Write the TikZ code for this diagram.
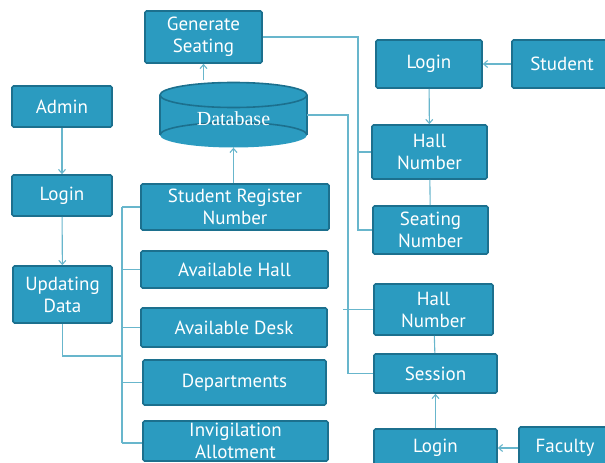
\documentclass[tikz,border=0pt]{standalone}
\usepackage{fontspec}
\setmainfont{PT Sans}
\newfontfamily\dbfont{Liberation Serif}
\usetikzlibrary{arrows.meta}
\definecolor{boxfill}{RGB}{43,155,192}
\definecolor{boxedge}{RGB}{28,112,142}
\definecolor{linec}{RGB}{104,182,204}
\tikzset{
  box/.style={draw=boxedge, line width=1.6pt, fill=boxfill, rounded corners=1.5pt,
    text=white, font=\fontsize{19}{22}\selectfont, align=center, inner sep=0pt},
  conn/.style={draw=linec, line width=1.1pt},
  arr/.style={conn, -{Straight Barb[length=4pt,width=7pt]}},
}
\begin{document}
\begin{tikzpicture}[x=1pt,y=-1pt]
\useasboundingbox (0,0) rectangle (605,463);
% database cylinder
\fill[boxfill] (160,95) rectangle (307,135);
\fill[boxfill] (233.5,135) ellipse [x radius=73.5pt, y radius=12.5pt];
\fill[boxfill] (233.5,95) ellipse [x radius=73.5pt, y radius=12.5pt];
\draw[boxedge, line width=1.6pt] (160,95) -- (160,135);
\draw[boxedge, line width=1.6pt] (307,95) -- (307,135);
\draw[boxedge, line width=1.6pt] (233.5,95) ellipse [x radius=73.5pt, y radius=12.5pt];
\draw[boxedge, line width=1.6pt] (160,135) arc [start angle=180, end angle=360, x radius=73.5pt, y radius=-12.5pt];
\node[minimum width=147, minimum height=65, inner sep=0pt] (db) at (233.5,115) {};
\node[text=white, font=\dbfont\fontsize{20}{22}\selectfont, inner sep=0pt] (dblabel) at (233.5,119) {Database};

\node[box, minimum width=117, minimum height=52] (gen) at (203.5,37) {Generate\\Seating};
\node[box, minimum width=100, minimum height=41] (admin) at (62,106.5) {Admin};
\node[box, minimum width=100, minimum height=41] (login1) at (62,195.5) {Login};
\node[box, minimum width=99, minimum height=57] (upd) at (62.5,294.5) {Updating\\Data};
\node[box, minimum width=188, minimum height=46] (srn) at (235,207) {Student Register\\Number};
\node[box, minimum width=187, minimum height=37] (ah) at (234.5,269.5) {Available Hall};
\node[box, minimum width=186, minimum height=39] (ad) at (234,327.5) {Available Desk};
\node[box, minimum width=183, minimum height=45] (dep) at (234.5,382.5) {Departments};
\node[box, minimum width=185, minimum height=40] (inv) at (235.5,441) {Invigilation\\Allotment};
\node[box, minimum width=106, minimum height=48] (login2) at (429,64) {Login};
\node[box, minimum width=100, minimum height=48] (student) at (562,64) {Student};
\node[box, minimum width=115, minimum height=54] (hall1) at (429.5,152) {Hall\\Number};
\node[box, minimum width=115, minimum height=48] (seat) at (430.5,230) {Seating\\Number};
\node[box, minimum width=119, minimum height=51] (hall2) at (433.5,309.5) {Hall\\Number};
\node[box, minimum width=123, minimum height=39] (session) at (435.5,373.5) {Session};
\node[box, minimum width=123, minimum height=38] (login3) at (435.5,448) {Login};
\node[box, minimum width=92, minimum height=42] (faculty) at (565,448) {Faculty};

\coordinate (bus1) at (122,207);
\coordinate (bus2) at (122,443);
\coordinate (j) at (122,356);
\coordinate (r1) at (358,37);
\coordinate (r2) at (348,115);

\draw[arr] ([yshift=2pt]gen.south |- db.north) -- (gen.south);
\draw[arr] (srn.north -| db.south) -- (db.south);
\draw[arr] (admin) -- (login1);
\draw[arr] (login1) -- (upd);
\draw[conn] (upd.south) |- (j);
\draw[conn] (bus1) -- (bus2);
\draw[conn] (bus1) -- (srn.west);
\draw[conn] (ah.west -| bus1) -- (ah.west);
\draw[conn] (ad.west -| bus1) -- (ad.west);
\draw[conn] (dep.west -| bus1) -- (dep.west);
\draw[conn] (bus2) -- (inv.west |- bus2);
\draw[conn] (gen.east) -- (r1) |- (seat.west);
\draw[conn] (hall1.west -| r1) -- (hall1.west);
\draw[conn] (db.east |- r2) -- (r2) |- (session.west);
\draw[conn] ([xshift=-5pt]hall2.west -| r2) -- (hall2.west);
\draw[arr] (student.west) -- (login2.east);
\draw[arr] (login2) -- (hall1);
\draw[conn] (hall1) -- (seat);
\draw[conn] (hall2) -- (session);
\draw[arr] (login3) -- (session);
\draw[arr] (faculty.west) -- (login3.east);
\end{tikzpicture}
\end{document}
